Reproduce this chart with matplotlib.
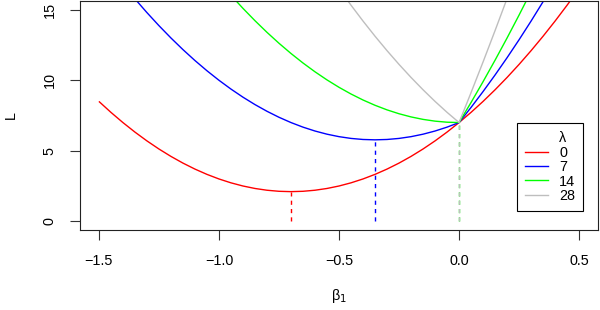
import matplotlib
matplotlib.use("Agg")
import matplotlib.pyplot as plt
from matplotlib.lines import Line2D

plt.rcParams['font.family'] = ['Liberation Sans', 'DejaVu Sans']

beta = [-1.5, -1.45, -1.4, -1.35, -1.3, -1.25, -1.2, -1.15, -1.1, -1.05,
        -1.0, -0.95, -0.9, -0.85, -0.8, -0.75, -0.7, -0.65, -0.6, -0.55,
        -0.5, -0.45, -0.4, -0.35, -0.3, -0.25, -0.2, -0.15, -0.1, -0.05,
        0.0, 0.05, 0.1, 0.15, 0.2, 0.25, 0.3, 0.35, 0.4, 0.45, 0.5]

L_0 = [8.5, 7.725, 7.0, 6.325, 5.7, 5.125, 4.6, 4.125, 3.7, 3.325,
       3.0, 2.725, 2.5, 2.325, 2.2, 2.125, 2.1, 2.125, 2.2, 2.325,
       2.5, 2.725, 3.0, 3.325, 3.7, 4.125, 4.6, 5.125, 5.7, 6.325,
       7.0, 7.725, 8.5, 9.325, 10.2, 11.125, 12.1, 13.125, 14.2, 15.325, 16.5]
L_7 = [19.0, 17.875, 16.8, 15.775, 14.8, 13.875, 13.0, 12.175, 11.4, 10.675,
       10.0, 9.375, 8.8, 8.275, 7.8, 7.375, 7.0, 6.675, 6.4, 6.175,
       6.0, 5.875, 5.8, 5.775, 5.8, 5.875, 6.0, 6.175, 6.4, 6.675,
       7.0, 8.075, 9.2, 10.375, 11.6, 12.875, 14.2, 15.575, 17.0, 18.475, 20.0]
L_14 = [29.5, 28.025, 26.6, 25.225, 23.9, 22.625, 21.4, 20.225, 19.1, 18.025,
        17.0, 16.025, 15.1, 14.225, 13.4, 12.625, 11.9, 11.225, 10.6, 10.025,
        9.5, 9.025, 8.6, 8.225, 7.9, 7.625, 7.4, 7.225, 7.1, 7.025,
        7.0, 8.425, 9.9, 11.425, 13.0, 14.625, 16.3, 18.025, 19.8, 21.625, 23.5]
L_28 = [50.5, 48.325, 46.2, 44.125, 42.1, 40.125, 38.2, 36.325, 34.5, 32.725,
        31.0, 29.325, 27.7, 26.125, 24.6, 23.125, 21.7, 20.325, 19.0, 17.725,
        16.5, 15.325, 14.2, 13.125, 12.1, 11.125, 10.2, 9.325, 8.5, 7.725,
        7.0, 9.125, 11.3, 13.525, 15.8, 18.125, 20.5, 22.925, 25.4, 27.925, 30.5]

lambdas = ['0', '7', '14', '28']
colors = ['#FF0000', '#0000FF', '#00FF00', '#BEBEBE']
beta_min = [-0.7, -0.35, 0.0, 0.0]
L_min = [2.1, 5.775, 7.0, 7.0]

xticks = [-1.5, -1.0, -0.5, 0.0, 0.5]
xticklabels = ['\u22121.5', '\u22121.0', '\u22120.5', '0.0', '0.5']
yticks = [0, 5, 10, 15]

FS = 10.4

fig = plt.figure(figsize=(6.0, 3.1), dpi=100)
ax = fig.add_axes([0.1328, 0.259, 0.8644, 0.7368])

series = [L_0, L_7, L_14, L_28]
for ys, c in zip(series, colors):
    ax.plot(beta, ys, color=c, lw=1.0, solid_capstyle='butt')
for b, m, c in zip(beta_min, L_min, colors):
    ax.plot([b, b], [0, m], color=c, lw=1.0, linestyle=(0, (3, 3)))

ax.set_xlim(-1.58, 0.58)
ax.set_ylim(-0.6, 15.6)

ax.set_xticks(xticks)
ax.set_xticklabels(xticklabels)
ax.set_yticks(yticks)
ax.set_yticklabels([str(v) for v in yticks], rotation=90, va='center')
ax.tick_params(axis='both', direction='out', length=7.5, width=0.8,
               color='#333333', labelsize=FS, labelcolor='black')
ax.tick_params(axis='x', pad=10)
ax.tick_params(axis='y', pad=9)

for sp in ax.spines.values():
    sp.set_linewidth(0.8)
    sp.set_color('#222222')

ax.set_xlabel('\u03b2$_1$', fontsize=FS, labelpad=14)
ax.set_ylabel('L', fontsize=FS, labelpad=18)

handles = [Line2D([], [], color='none')] + [Line2D([], [], color=c, lw=1.0) for c in colors]
labels = ['\u03bb'] + lambdas
leg = ax.legend(handles, labels, loc='upper right', bbox_to_anchor=(0.971, 0.466),
                frameon=True, fancybox=False, edgecolor='black', framealpha=1,
                fontsize=FS, handlelength=1.6, handletextpad=0.75,
                labelspacing=0.03, borderpad=0.55, borderaxespad=0)
leg.get_frame().set_linewidth(0.8)

fig.savefig('out.png', dpi=100)
